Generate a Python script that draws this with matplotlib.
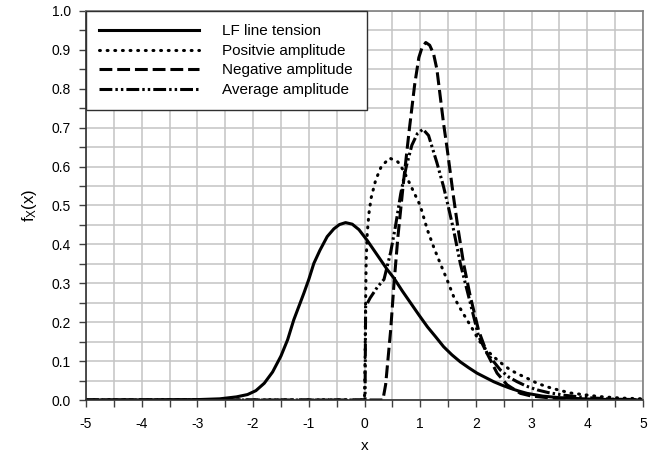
"""
Probability density curves: LF line tension and amplitudes
"""
import matplotlib
matplotlib.use("Agg")
import matplotlib.pyplot as plt
from matplotlib.ticker import MultipleLocator, FormatStrFormatter

plt.rcParams["font.family"] = ["Liberation Sans", "DejaVu Sans"]
plt.rcParams["font.size"] = 10
plt.rcParams["mathtext.default"] = "regular"

# LF line tension (solid)
x_lf = [-5, -4, -3, -2.6, -2.3, -2.1, -1.95, -1.8, -1.65, -1.5, -1.38, -1.27, -1.18,
        -1.09, -1.0, -0.91, -0.8, -0.67, -0.55, -0.45, -0.34, -0.22, -0.1, 0.05, 0.17,
        0.29, 0.41, 0.53, 0.68, 0.83, 0.98, 1.13, 1.28, 1.42, 1.57, 1.72, 1.87, 2.02,
        2.17, 2.32, 2.47, 2.62, 2.77, 2.92, 3.2, 3.5, 4.0, 4.5, 5.0]
y_lf = [0, 0.0003, 0.001, 0.003, 0.008, 0.014, 0.024, 0.043, 0.072, 0.113, 0.155, 0.206,
        0.24, 0.274, 0.31, 0.351, 0.385, 0.42, 0.44, 0.451, 0.456, 0.452, 0.438, 0.41,
        0.385, 0.36, 0.335, 0.313, 0.28, 0.249, 0.218, 0.188, 0.162, 0.137, 0.116, 0.098,
        0.083, 0.069, 0.058, 0.047, 0.038, 0.030, 0.023, 0.017, 0.010, 0.006, 0.0025,
        0.001, 0.0]

# Positive amplitude (dotted)
x_pos = [-5, 0, 0.01, 0.02, 0.03, 0.05, 0.08, 0.12, 0.2, 0.3, 0.45, 0.6, 0.7, 0.8, 0.9,
         1.0, 1.13, 1.25, 1.36, 1.48, 1.6, 1.72, 1.84, 1.95, 2.05, 2.18, 2.32, 2.47, 2.62,
         2.77, 2.92, 3.1, 3.3, 3.5, 3.7, 4.2, 4.6, 5]
y_pos = [0, 0, 0.1, 0.25, 0.36, 0.43, 0.48, 0.52, 0.565, 0.60, 0.622, 0.612, 0.59, 0.56,
         0.53, 0.50, 0.437, 0.39, 0.351, 0.31, 0.266, 0.235, 0.206, 0.18, 0.154, 0.13,
         0.111, 0.093, 0.077, 0.066, 0.056, 0.043, 0.033, 0.025, 0.018, 0.009, 0.005, 0.003]

# Negative amplitude (dashed)
x_neg = [-5, 0.33, 0.38, 0.47, 0.53, 0.6, 0.7, 0.8, 0.9, 0.975, 1.03, 1.1, 1.17, 1.24,
         1.3, 1.36, 1.42, 1.48, 1.54, 1.6, 1.68, 1.78, 1.9, 2.05, 2.2, 2.38, 2.56, 2.8,
         3.0, 3.5, 4.0, 5.0]
y_neg = [0, 0, 0.04, 0.18, 0.30, 0.42, 0.56, 0.69, 0.81, 0.88, 0.905, 0.919, 0.912, 0.89,
         0.85, 0.78, 0.71, 0.65, 0.585, 0.52, 0.44, 0.35, 0.266, 0.178, 0.12, 0.069, 0.039,
         0.017, 0.01, 0.003, 0.001, 0]

# Average amplitude (dash-dot-dot)
x_avg = [-5, 0.01, 0.02, 0.1, 0.23, 0.35, 0.47, 0.56, 0.65, 0.75, 0.85, 0.95, 1.05, 1.15,
         1.3, 1.42, 1.5, 1.6, 1.72, 1.9, 2.05, 2.2, 2.44, 2.6, 2.74, 2.9, 3.1, 3.3, 3.6,
         4.0, 4.5, 5.0]
y_avg = [0, 0, 0.24, 0.262, 0.29, 0.31, 0.38, 0.45, 0.53, 0.60, 0.655, 0.685, 0.696, 0.68,
         0.61, 0.548, 0.50, 0.437, 0.351, 0.249, 0.163, 0.12, 0.077, 0.058, 0.047, 0.036,
         0.026, 0.019, 0.012, 0.006, 0.002, 0.001]

labels = ["LF line tension", "Positvie amplitude", "Negative amplitude", "Average amplitude"]

fig = plt.figure(figsize=(6.59, 4.57), dpi=100)
ax = fig.add_axes((86 / 659, 1 - 400 / 457, (643 - 86) / 659, (400 - 11) / 457))

lw = 2.2
ax.plot(x_lf, y_lf, color="black", lw=lw, solid_joinstyle="round", label=labels[0])
ax.plot(x_pos, y_pos, color="black", lw=lw, dashes=(0.3, 2.2), dash_capstyle="round",
        label=labels[1])
ax.plot(x_neg, y_neg, color="black", lw=lw, dashes=(4.2, 1.6), label=labels[2])
ax.plot(x_avg, y_avg, color="black", lw=lw, dashes=(4.2, 1.0, 0.8, 1.0, 0.8, 1.0),
        label=labels[3])

ax.set_xlim(-5, 5)
ax.set_ylim(0, 1.0)
ax.xaxis.set_major_locator(MultipleLocator(1))
ax.xaxis.set_minor_locator(MultipleLocator(0.5))
ax.yaxis.set_major_locator(MultipleLocator(0.1))
ax.yaxis.set_minor_locator(MultipleLocator(0.05))
ax.yaxis.set_major_formatter(FormatStrFormatter("%.1f"))
ax.xaxis.set_major_formatter(FormatStrFormatter("%d"))

ax.grid(True, which="both", color="#c4c4c4", lw=1.1)
ax.set_axisbelow(True)
ax.tick_params(which="both", direction="out", length=5, width=1, color="#404040",
               labelsize=10)
ax.tick_params(axis="x", pad=7)
ax.tick_params(axis="y", pad=6)

for side in ("top", "right"):
    ax.spines[side].set_color("#808080")
    ax.spines[side].set_linewidth(1.2)
for side in ("left", "bottom"):
    ax.spines[side].set_color("#303030")
    ax.spines[side].set_linewidth(1.2)

ax.set_xlabel("x", fontsize=11, labelpad=6)
ax.set_ylabel("f$_X$(x)", fontsize=12, labelpad=9)

leg = ax.legend(loc="upper left", bbox_to_anchor=(0, 1), borderaxespad=0,
                fancybox=False, framealpha=1, edgecolor="#303030",
                handlelength=6.5, handletextpad=1.55, labelspacing=0.36,
                borderpad=0.88, fontsize=11)
leg.get_frame().set_linewidth(1.0)

fig.savefig("out.png", dpi=100)
